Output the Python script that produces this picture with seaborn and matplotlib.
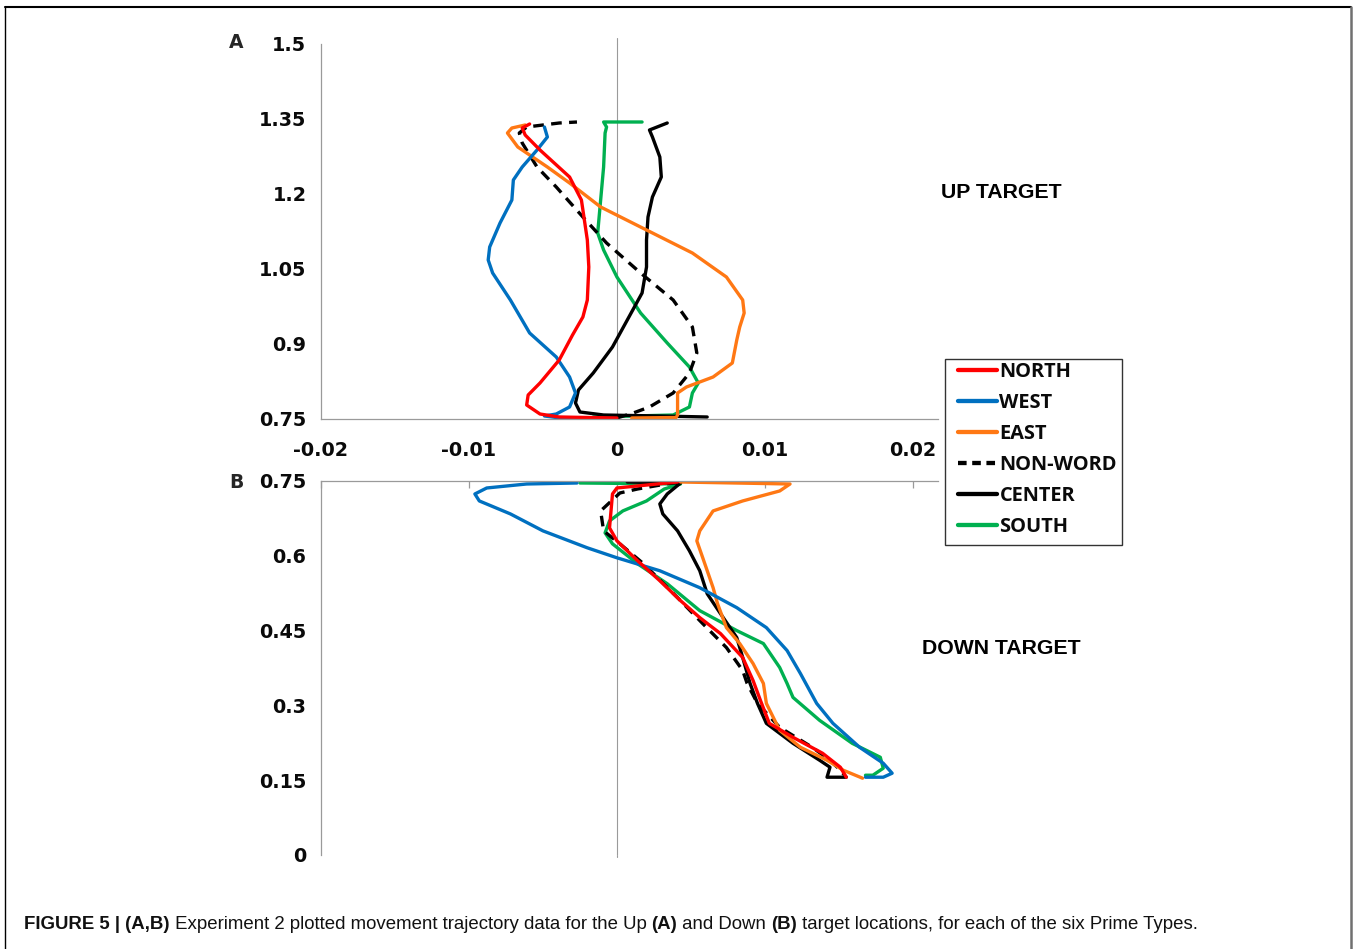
import numpy as np
import pandas as pd
import matplotlib
matplotlib.use("Agg")
import matplotlib.pyplot as plt
from matplotlib.lines import Line2D
from matplotlib.patches import Rectangle
import seaborn as sns

# ---- data (x = horizontal deviation, y = vertical position) ----
prime_types = ["NORTH", "WEST", "EAST", "NON-WORD", "CENTER", "SOUTH"]

# Panel A: up target
up_north_x = [0.0, -0.0039, -0.0052, -0.0061, -0.0060, -0.0052, -0.0039, -0.0030, -0.0023, -0.0020,
              -0.0019, -0.0020, -0.0024, -0.0032, -0.0052, -0.0062, -0.0064, -0.0059]
up_north_y = [0.752, 0.754, 0.760, 0.778, 0.798, 0.822, 0.868, 0.918, 0.954, 0.988,
              1.054, 1.108, 1.188, 1.234, 1.288, 1.318, 1.332, 1.340]
up_west_x = [-0.0016, -0.0041, -0.0049, -0.0041, -0.0032, -0.0028, -0.0032, -0.0041, -0.0059, -0.0072,
             -0.0084, -0.0087, -0.0086, -0.0079, -0.0071, -0.0070, -0.0064, -0.0054, -0.0047, -0.0049]
up_west_y = [0.752, 0.753, 0.756, 0.760, 0.774, 0.802, 0.834, 0.874, 0.922, 0.988,
             1.042, 1.068, 1.094, 1.142, 1.188, 1.228, 1.254, 1.288, 1.314, 1.334]
up_east_x = [0.0010, 0.0040, 0.0041, 0.0041, 0.0041, 0.0047, 0.0065, 0.0078, 0.0081, 0.0083, 0.0086,
             0.0085, 0.0074, 0.0051, 0.0020, -0.0011, -0.0032, -0.0047, -0.0067, -0.0074, -0.0071, -0.0062]
up_east_y = [0.752, 0.753, 0.758, 0.782, 0.802, 0.814, 0.834, 0.862, 0.908, 0.934, 0.962,
             0.988, 1.034, 1.082, 1.128, 1.174, 1.222, 1.254, 1.294, 1.322, 1.332, 1.338]
up_nonword_x = [0.0, 0.0011, 0.0022, 0.0038, 0.0049, 0.0054, 0.0051, 0.0038, 0.0016, -0.0007,
                -0.0023, -0.0041, -0.0054, -0.0064, -0.0066, -0.0061, -0.0039, -0.0027]
up_nonword_y = [0.752, 0.762, 0.774, 0.802, 0.842, 0.882, 0.934, 0.988, 1.042, 1.102,
                1.154, 1.214, 1.254, 1.302, 1.322, 1.334, 1.342, 1.344]
up_center_x = [0.0061, 0.0029, -0.0009, -0.0025, -0.0028, -0.0026, -0.0016, -0.0003, 0.0007, 0.0017,
               0.0020, 0.0020, 0.0021, 0.0024, 0.0030, 0.0029, 0.0024, 0.0022, 0.0034]
up_center_y = [0.754, 0.756, 0.758, 0.764, 0.782, 0.808, 0.842, 0.894, 0.948, 1.002,
               1.054, 1.108, 1.154, 1.194, 1.234, 1.274, 1.314, 1.328, 1.342]
up_south_x = [-0.0016, 0.0038, 0.0049, 0.0051, 0.0055, 0.0049, 0.0034, 0.0016, 0.0, -0.0009,
              -0.0013, -0.0011, -0.0009, -0.0008, -0.0007, -0.0009, 0.0017]
up_south_y = [0.754, 0.758, 0.774, 0.802, 0.822, 0.854, 0.902, 0.962, 1.034, 1.088,
              1.122, 1.188, 1.254, 1.322, 1.334, 1.344, 1.344]

# Panel B: down target
down_north_x = [0.0041, 0.0, -0.0003, -0.0005, 0.0, 0.0014, 0.0029, 0.0043, 0.0056, 0.0070,
                0.0085, 0.0092, 0.0097, 0.0103, 0.0119, 0.0139, 0.0151, 0.0155]
down_north_y = [0.748, 0.736, 0.724, 0.656, 0.630, 0.590, 0.550, 0.510, 0.476, 0.444,
                0.396, 0.350, 0.310, 0.264, 0.236, 0.204, 0.176, 0.156]
down_west_x = [-0.0027, -0.0061, -0.0088, -0.0096, -0.0093, -0.0072, -0.0050, -0.0020, 0.0, 0.0029, 0.0056,
               0.0081, 0.0101, 0.0115, 0.0124, 0.0135, 0.0146, 0.0164, 0.0180, 0.0186, 0.0180, 0.0168]
down_west_y = [0.746, 0.744, 0.736, 0.724, 0.710, 0.684, 0.650, 0.616, 0.596, 0.570, 0.536,
               0.496, 0.456, 0.410, 0.364, 0.304, 0.264, 0.216, 0.184, 0.164, 0.156, 0.156]
down_east_x = [0.0043, 0.0117, 0.0110, 0.0085, 0.0065, 0.0056, 0.0054, 0.0058, 0.0065, 0.0068,
               0.0074, 0.0083, 0.0092, 0.0099, 0.0101, 0.0110, 0.0124, 0.0142, 0.0153, 0.0166]
down_east_y = [0.748, 0.744, 0.730, 0.710, 0.690, 0.650, 0.630, 0.596, 0.536, 0.504,
               0.456, 0.424, 0.384, 0.344, 0.304, 0.250, 0.216, 0.190, 0.170, 0.154]
down_nonword_x = [0.0041, 0.0014, 0.0002, -0.0011, -0.0009, 0.0002, 0.0018, 0.0041, 0.0058, 0.0074,
                  0.0085, 0.0088, 0.0095, 0.0110, 0.0132, 0.0144, 0.0151, 0.0155]
down_nonword_y = [0.748, 0.734, 0.726, 0.690, 0.650, 0.624, 0.584, 0.516, 0.464, 0.416,
                  0.370, 0.344, 0.304, 0.256, 0.216, 0.190, 0.170, 0.156]
down_center_x = [0.0007, 0.0043, 0.0034, 0.0029, 0.0031, 0.0041, 0.0049, 0.0056, 0.0061, 0.0070,
                 0.0081, 0.0085, 0.0090, 0.0095, 0.0101, 0.0119, 0.0137, 0.0144, 0.0142, 0.0155]
down_center_y = [0.748, 0.746, 0.724, 0.704, 0.684, 0.650, 0.610, 0.570, 0.524, 0.484,
                 0.436, 0.396, 0.344, 0.304, 0.264, 0.224, 0.190, 0.176, 0.156, 0.156]
down_south_x = [-0.0025, 0.0043, 0.0032, 0.0020, 0.0004, -0.0005, -0.0008, -0.0003, 0.0014, 0.0034, 0.0056,
                0.0081, 0.0099, 0.0110, 0.0115, 0.0119, 0.0137, 0.0159, 0.0178, 0.0180, 0.0173, 0.0168]
down_south_y = [0.746, 0.744, 0.734, 0.710, 0.690, 0.670, 0.646, 0.624, 0.584, 0.544, 0.490,
                0.450, 0.424, 0.376, 0.344, 0.316, 0.270, 0.224, 0.196, 0.174, 0.160, 0.160]

x_ticks = [-0.02, -0.01, 0, 0.01, 0.02]
x_tick_labels = ["-0.02", "-0.01", "0", "0.01", "0.02"]
up_y_ticks = [0.75, 0.9, 1.05, 1.2, 1.35, 1.5]
up_y_labels = ["0.75", "0.9", "1.05", "1.2", "1.35", "1.5"]
down_y_ticks = [0, 0.15, 0.3, 0.45, 0.6, 0.75]
down_y_labels = ["0", "0.15", "0.3", "0.45", "0.6", "0.75"]

caption_parts = [("FIGURE 5 | (A,B)", "bold"), (" Experiment 2 plotted movement trajectory data for the Up ", "normal"),
                 ("(A)", "bold"), (" and Down ", "normal"), ("(B)", "bold"),
                 (" target locations, for each of the six Prime Types.", "normal")]

colors = {"NORTH": "#ff0000", "WEST": "#0070c0", "EAST": "#ff7814",
          "NON-WORD": "#000000", "CENTER": "#000000", "SOUTH": "#00b050"}
dashed = {"NORTH": False, "WEST": False, "EAST": False, "NON-WORD": True, "CENTER": False, "SOUTH": False}


def build_frame(series):
    rows = []
    for name, (xs, ys) in series.items():
        for i, (x, y) in enumerate(zip(xs, ys)):
            rows.append({"prime": name, "step": i, "x": x, "y": y})
    return pd.DataFrame(rows)


up_df = build_frame({"NORTH": (up_north_x, up_north_y), "WEST": (up_west_x, up_west_y),
                     "EAST": (up_east_x, up_east_y), "NON-WORD": (up_nonword_x, up_nonword_y),
                     "CENTER": (up_center_x, up_center_y), "SOUTH": (up_south_x, up_south_y)})
down_df = build_frame({"NORTH": (down_north_x, down_north_y), "WEST": (down_west_x, down_west_y),
                       "EAST": (down_east_x, down_east_y), "NON-WORD": (down_nonword_x, down_nonword_y),
                       "CENTER": (down_center_x, down_center_y), "SOUTH": (down_south_x, down_south_y)})

sns.set_style("white")
plt.rcParams["font.family"] = ["DejaVu Sans"]

W, H = 1354, 949
fig = plt.figure(figsize=(W / 100, H / 100), dpi=100)


def box(left, top, right, bottom):
    return [left / W, 1 - bottom / H, (right - left) / W, (bottom - top) / H]


ax_a = fig.add_axes(box(321, 44, 938, 419))
ax_b = fig.add_axes(box(321, 481, 938, 855))

axis_grey = "#9a9a9a"
tick_font = {"family": "DejaVu Sans", "weight": "bold", "size": 13.8}
LW = 2.4

for ax, df in [(ax_a, up_df), (ax_b, down_df)]:
    ax.axvline(0, color=axis_grey, lw=0.8, zorder=1)
    for name in ["SOUTH", "CENTER", "NON-WORD", "EAST", "WEST", "NORTH"]:
        sub = df[df["prime"] == name]
        sns.lineplot(data=sub, x="x", y="y", sort=False, estimator=None, ax=ax,
                     color=colors[name], lw=LW, legend=False,
                     linestyle=(0, (3.2, 2.2)) if dashed[name] else "-")
    ax.set_xlim(-0.02, 0.0217)
    ax.set_xlabel("")
    ax.set_ylabel("")
    for s in ax.spines.values():
        s.set_color(axis_grey)
        s.set_linewidth(0.9)
    ax.spines["right"].set_visible(False)
    ax.tick_params(axis="both", colors=axis_grey, length=5, width=0.9, labelcolor="#0a0a0a")

# panel A
ax_a.set_ylim(0.75, 1.5)
ax_a.spines["top"].set_visible(False)
ax_a.set_yticks(up_y_ticks)
ax_a.set_yticklabels(up_y_labels, fontdict=tick_font)
ax_a.set_xticks(x_ticks)
ax_a.set_xticklabels(x_tick_labels, fontdict=tick_font)
ax_a.tick_params(axis="x", direction="out", pad=11)
ax_a.tick_params(axis="y", direction="out", pad=5.5)
ax_a.axvline(0, ymin=1.0, ymax=1.016, color=axis_grey, lw=0.8, clip_on=False)

# panel B
ax_b.set_ylim(0, 0.75)
ax_b.spines["bottom"].set_visible(False)
ax_b.set_yticks(down_y_ticks)
ax_b.set_yticklabels(down_y_labels, fontdict=tick_font)
ax_b.set_xticks(x_ticks)
ax_b.tick_params(axis="x", top=True, bottom=False, labeltop=False, labelbottom=False, direction="in")
ax_b.tick_params(axis="y", direction="out", pad=5.5)
ax_b.axvline(0, ymin=-0.006, ymax=0.0, color=axis_grey, lw=0.8, clip_on=False)

# panel letters and target labels
fig.text(236 / W, 1 - 42 / H, "A", ha="center", va="center", fontsize=13.5, fontweight="bold")
fig.text(236 / W, 1 - 482 / H, "B", ha="center", va="center", fontsize=13.5, fontweight="bold")
fig.text(1001 / W, 1 - 192 / H, "UP TARGET", ha="center", va="center", fontsize=15.3,
         fontweight="bold", family=["Liberation Sans", "DejaVu Sans"], color="black")
fig.text(1001 / W, 1 - 648 / H, "DOWN TARGET", ha="center", va="center", fontsize=15.3,
         fontweight="bold", family=["Liberation Sans", "DejaVu Sans"], color="black")

# legend: frame drawn separately so the padding matches
fig.add_artist(Rectangle((945 / W, 1 - 545 / H), 177 / W, 186 / H, transform=fig.transFigure,
                         facecolor="white", edgecolor="#333333", lw=1.0, zorder=3))
handles = [Line2D([0], [0], color=colors[n], lw=LW + 0.7,
                  linestyle=(0, (2.0, 1.3)) if dashed[n] else "-") for n in prime_types]
leg = fig.legend(handles, prime_types, loc="upper left",
                 bbox_to_anchor=(958 / W, 1 - 362 / H), borderaxespad=0,
                 frameon=False, handlelength=1.95, handletextpad=0.12,
                 labelspacing=0.545, borderpad=0.0,
                 prop={"family": "Open Sans", "weight": "bold", "size": 14.4})
leg.set_zorder(4)
for t in leg.get_texts():
    t.set_color("#0a0a0a")

# outer frame
fig.add_artist(Line2D([5 / W, 1351 / W], [1 - 7 / H, 1 - 7 / H], color="black", lw=1.5))
fig.add_artist(Line2D([1351 / W, 1351 / W], [1 - 7 / H, 0], color="#707070", lw=1.8))
fig.add_artist(Line2D([5 / W, 5 / W], [1 - 7 / H, 0], color="black", lw=1.0))

# caption with mixed weights
fig.canvas.draw()
renderer = fig.canvas.get_renderer()
cx = 24
for txt, wt in caption_parts:
    t = fig.text(cx / W, 1 - 929 / H, txt, ha="left", va="baseline", fontsize=13.4,
                 fontweight=wt, family=["Liberation Sans", "DejaVu Sans"], color="#111111")
    bb = t.get_window_extent(renderer=renderer)
    cx += bb.width

fig.savefig("out.png", dpi=100)
